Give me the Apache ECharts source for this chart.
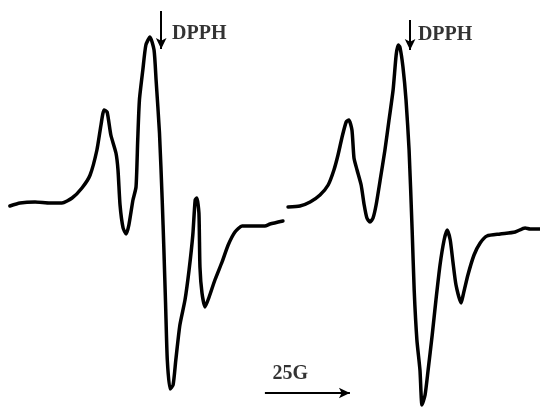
<!DOCTYPE html>
<html>
<head>
<meta charset="utf-8">
<script src="https://cdn.jsdelivr.net/npm/echarts@6/dist/echarts.min.js"></script>
<style>
  html, body { margin: 0; padding: 0; background: #fff; }
  #chart { width: 540px; height: 407px; }
</style>
</head>
<body>
<div id="chart"></div>
<script>
// EPR spectrum, first trace: magnetic field (G) and derivative signal (arb. units)
const fieldA = [2.9, 5.9, 10.3, 14.7, 18.2, 21.2, 24.1, 26.5, 28.5, 29.7, 30.6, 31.5, 32.6, 34.1, 34.7,
  35.3, 36.2, 37.1, 37.9, 39.1, 40.0, 40.5, 41.0, 42.0, 42.9, 44.1, 45.3, 45.9, 46.9, 47.7,
  48.2, 48.7, 49.2, 50.0, 50.9, 51.7, 52.9, 54.4, 55.6, 56.7, 57.4, 57.9, 58.5, 58.8, 59.4,
  60.3, 61.5, 63.2, 65.3, 67.1, 69.1, 71.2, 75.0, 77.9, 79.4, 83.2];
const signalA = [4, 7, 8, 7, 7, 12, 22, 35, 60, 85, 100, 98, 75, 57, 40,
  5, -18, -24, -15, 10, 23, 70, 110, 140, 165, 173, 160, 130, 77, 10,
  -40, -95, -150, -179, -175, -150, -115, -90, -60, -25, 10, 12, -3, -57, -83,
  -97, -87, -70, -52, -35, -22, -16, -16, -16, -14, -11];

// Second trace
const fieldB = [84.7, 88.2, 91.2, 94.1, 96.5, 98.2, 99.4, 100.6, 101.8, 102.6, 103.5, 104.1, 105.0, 106.2,
  107.1, 107.9, 108.8, 109.7, 110.6, 111.8, 113.2, 114.4, 115.6, 116.5, 117.1, 117.6, 118.5, 119.4,
  120.3, 121.2, 121.8, 122.6, 123.5, 124.1, 125.0, 125.9, 127.1, 128.2, 129.4, 130.6, 131.5, 132.4,
  133.2, 134.1, 135.6, 136.2, 137.6, 139.4, 141.2, 143.2, 147.1, 151.5, 154.4, 155.9, 158.8];
const signalB = [3, 4, 8, 15, 25, 40, 55, 73, 88, 90, 80, 52, 40, 25,
  5, -8, -12, -8, 5, 30, 60, 90, 120, 155, 165, 163, 143, 110,
  60, -20, -80, -130, -160, -195, -185, -160, -125, -90, -55, -30, -20, -30,
  -52, -75, -93, -85, -65, -45, -33, -26, -24, -22, -18, -19, -19];

// DPPH reference markers: field position, arrow top and tip
const dpphField = [47.4, 120.6];
const dpphTop = [199, 190];
const dpphTip = [161, 160];
const dpphLabelField = [50.6, 122.9];
const dpphLabelLevel = [176, 175];

// 25 G scale bar
const scaleStart = 77.9;
const scaleSpan = 25;
const scaleLevel = -183;
const scaleText = '25G';
const scaleTextField = 85.4;
const scaleTextLevel = -163.5;

const pairs = (xs, ys) => xs.map((x, i) => [x, ys[i]]);
const ink = '#000';
const labelFont = { fontFamily: 'Liberation Serif', fontWeight: 'bold', fontSize: 20, color: ink };

const chart = echarts.init(document.getElementById('chart'));
chart.setOption({
  animation: false,
  backgroundColor: '#fff',
  grid: { left: 0, right: 0, top: 0, bottom: 0 },
  xAxis: { type: 'value', min: 0, max: 158.8, show: false },
  yAxis: { type: 'value', min: -197, max: 210, show: false },
  series: [
    {
      type: 'line', data: pairs(fieldA, signalA), showSymbol: false, smooth: 0.2,
      lineStyle: { color: ink, width: 3.5, join: 'round', cap: 'round' }
    },
    {
      type: 'line', data: pairs(fieldB, signalB), showSymbol: false, smooth: 0.2,
      lineStyle: { color: ink, width: 3.5, join: 'round', cap: 'round' }
    },
    {
      type: 'line', data: [], silent: true,
      markLine: {
        silent: true,
        symbol: ['none', 'arrow'],
        symbolSize: [8, 11],
        label: { show: false },
        lineStyle: { color: ink, width: 2, type: 'solid' },
        emphasis: { disabled: true },
        data: [
          ...dpphField.map((f, i) => [{ coord: [f, dpphTop[i]] }, { coord: [f, dpphTip[i]] }]),
          [{ coord: [scaleStart, scaleLevel] }, { coord: [scaleStart + scaleSpan, scaleLevel] }]
        ]
      }
    },
    {
      type: 'scatter', symbolSize: 0, silent: true,
      data: dpphLabelField.map((f, i) => [f, dpphLabelLevel[i]]),
      label: { show: true, position: 'right', distance: 0, formatter: 'DPPH', ...labelFont }
    },
    {
      type: 'scatter', symbolSize: 0, silent: true,
      data: [[scaleTextField, scaleTextLevel]],
      label: { show: true, position: 'inside', formatter: scaleText, ...labelFont }
    }
  ]
});
</script>
</body>
</html>
